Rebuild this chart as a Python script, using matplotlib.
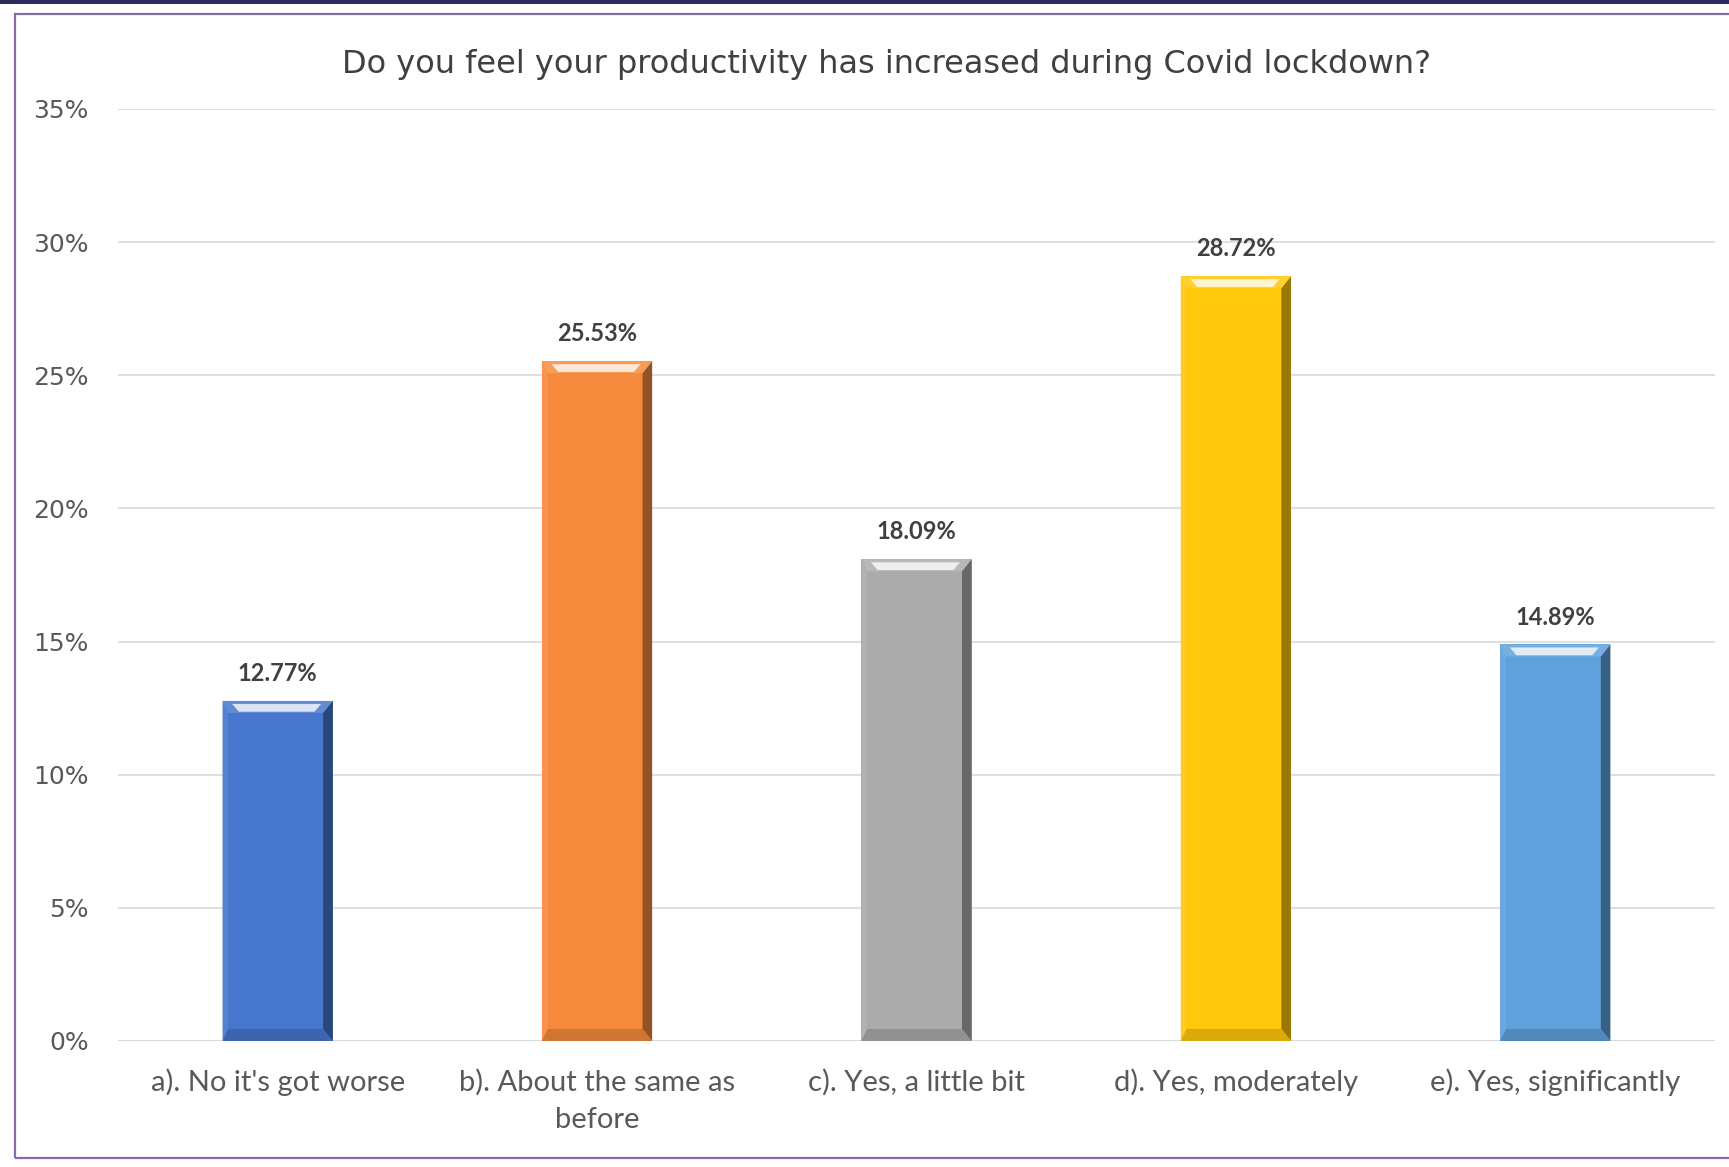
# Productivity during Covid lockdown survey, Excel-style bevelled bar chart.
import matplotlib
matplotlib.use("Agg")
import matplotlib.pyplot as plt
from matplotlib.patches import Rectangle, Polygon
from matplotlib.ticker import PercentFormatter

categories = ["a). No it's got worse", "b). About the same as\nbefore",
              "c). Yes, a little bit", "d). Yes, moderately", "e). Yes, significantly"]
shares = [12.77, 25.53, 18.09, 28.72, 14.89]
bar_colours = ["#4677cc", "#f68a3c", "#ababab", "#ffc80a", "#5fa1dc"]
y_ticks = [0, 5, 10, 15, 20, 25, 30, 35]

fig = plt.figure(figsize=(17.29, 11.67), dpi=100)
ax = fig.add_axes([0.0682, 0.108, 0.9237, 0.7986])

x = list(range(len(categories)))
width = 0.345
ax.bar(x, shares, width=width, color=bar_colours, zorder=3)


def shade(c, f):
    r, g, b = matplotlib.colors.to_rgb(c)
    if f < 1:
        return (r * f, g * f, b * f)
    f = f - 1
    return (r + (1 - r) * f, g + (1 - g) * f, b + (1 - b) * f)


# bevel decoration derived from each bar
dx = 0.03
dy = 0.45
for xi, v, c in zip(x, shares, bar_colours):
    l, r = xi - width / 2, xi + width / 2
    ax.add_patch(Polygon([(r - dx, dy), (r, 0), (r, v), (r - dx, v - dy)],
                         color=shade(c, 0.6), zorder=4, lw=0))
    ax.add_patch(Polygon([(l, 0), (l + dx * 0.6, dy), (l + dx * 0.6, v - dy), (l, v)],
                         color=shade(c, 1.08), zorder=4, lw=0))
    ax.add_patch(Polygon([(l, v), (r, v), (r - dx, v - dy), (l + dx * 0.6, v - dy)],
                         color=shade(c, 1.15), zorder=4, lw=0))
    ax.add_patch(Polygon([(l + dx, v - dy * 0.25), (r - dx * 1.2, v - dy * 0.25),
                          (r - dx * 1.9, v - dy * 0.9), (l + dx * 1.7, v - dy * 0.9)],
                         color=shade(c, 1.8), zorder=5, lw=0))
    ax.add_patch(Polygon([(l, 0), (r, 0), (r - dx, dy), (l + dx * 0.6, dy)],
                         color=shade(c, 0.85), zorder=4, lw=0))
    ax.text(xi, v + 0.6, "%.2f%%" % v, ha="center", va="bottom",
            fontsize=17, fontweight="bold", color="#404040", family="Lato")

ax.set_xlim(-0.5, len(categories) - 0.5)
ax.set_ylim(0, 35)
ax.set_yticks(y_ticks)
ax.yaxis.set_major_formatter(PercentFormatter(decimals=0))
ax.grid(axis="y", color="#d9d9d9", lw=1.2, zorder=0)
for s in ["top", "right", "left", "bottom"]:
    ax.spines[s].set_visible(False)
ax.axhline(0, color="#d9d9d9", lw=1.5, zorder=2)
ax.tick_params(axis="both", length=0)
ax.tick_params(axis="y", labelsize=18, labelcolor="#595959", pad=21)
ax.set_xticks(x)
ax.set_xticklabels(categories, fontsize=21, color="#595959", family="Lato",
                   linespacing=1.55)
ax.tick_params(axis="x", pad=20)

fig.text(0.5128, 0.945, "Do you feel your productivity has increased during Covid lockdown?",
         ha="center", va="center", fontsize=23, color="#404040")

# outer frame and top band
fig.patches.append(Rectangle((0.0087, 0.0077), 1.1, 0.9803, transform=fig.transFigure,
                             fill=False, edgecolor="#8a6aa6", lw=1.6))
fig.patches.append(Rectangle((0, 0.9966), 1, 0.0034, transform=fig.transFigure,
                             color="#2d2a5e", lw=0))

fig.savefig("out.png", dpi=100)
